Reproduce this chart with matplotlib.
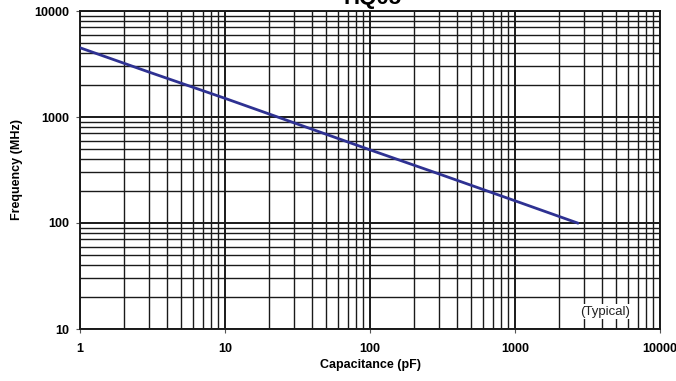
import matplotlib
matplotlib.use("Agg")
import matplotlib.pyplot as plt
from matplotlib.ticker import FixedLocator, NullFormatter

plt.rcParams['font.family'] = ['Liberation Sans', 'DejaVu Sans']

# datos
capacitancia = [1, 3, 10, 30, 100, 300, 1000, 2700]
frecuencia = [4500, 2650, 1500, 880, 490, 290, 162, 100]

x_ticks = [1, 10, 100, 1000, 10000]
y_ticks = [10, 100, 1000, 10000]
titulo = "HQ05"

fig = plt.figure(figsize=(6.76, 3.81), dpi=100)
ax = fig.add_axes([80 / 676, 1 - 329 / 381, 580 / 676, 318 / 381])

ax.set_xscale('log')
ax.set_yscale('log')
ax.set_xlim(1, 10000)
ax.set_ylim(10, 10000)

# grilla
ax.grid(which='major', color='#1a1a1a', linewidth=1.4)
ax.grid(which='minor', color='#1a1a1a', linewidth=1.0)

ax.plot(capacitancia, frecuencia, color='#2e3192', linewidth=2.0, zorder=3)

ax.xaxis.set_major_locator(FixedLocator(x_ticks))
ax.yaxis.set_major_locator(FixedLocator(y_ticks))
ax.set_xticklabels([str(t) for t in x_ticks])
ax.set_yticklabels([str(t) for t in y_ticks])
ax.xaxis.set_minor_formatter(NullFormatter())
ax.yaxis.set_minor_formatter(NullFormatter())
ax.tick_params(which='major', length=3, width=0.8, color='#555555', labelsize=9, pad=5)
ax.tick_params(axis='x', which='major', pad=7)
ax.tick_params(which='minor', length=0)
for lbl in ax.get_xticklabels() + ax.get_yticklabels():
    lbl.set_fontweight('bold')

for s in ax.spines.values():
    s.set_color('#1a1a1a')
    s.set_linewidth(1.4)

ax.set_xlabel("Capacitance (pF)", fontsize=9, fontweight='bold', labelpad=3)
ax.set_ylabel("Frequency (MHz)", fontsize=9, fontweight='bold', labelpad=8)

ax.text(0.906, 0.055, "(Typical)", transform=ax.transAxes, fontsize=9.5,
        ha='center', va='center', color='#222222',
        bbox=dict(facecolor='white', edgecolor='none', pad=1.0), zorder=4)

fig.text(373 / 676, 1 - 4 / 381, titulo, fontsize=16, fontweight='bold',
         ha='center', va='baseline')

plt.savefig("out.png", dpi=100)
